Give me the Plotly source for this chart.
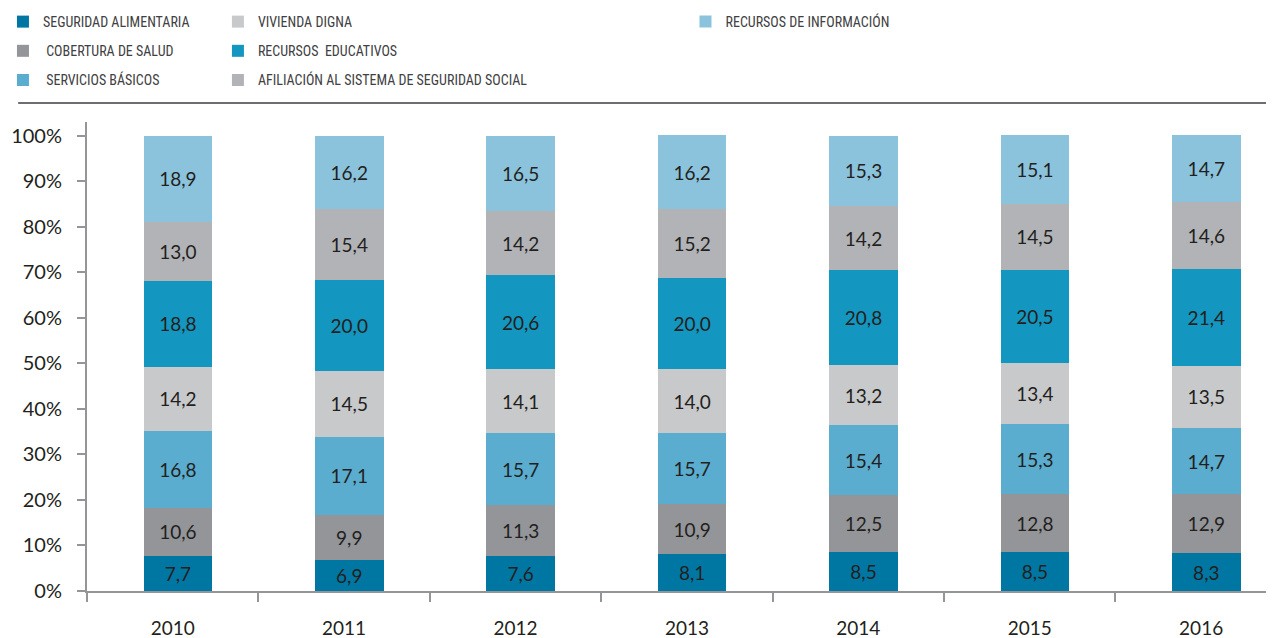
import plotly.graph_objects as go

years = ["2010", "2011", "2012", "2013", "2014", "2015", "2016"]
seguridad_alimentaria = [7.7, 6.9, 7.6, 8.1, 8.5, 8.5, 8.3]
cobertura_salud = [10.6, 9.9, 11.3, 10.9, 12.5, 12.8, 12.9]
servicios_basicos = [16.8, 17.1, 15.7, 15.7, 15.4, 15.3, 14.7]
vivienda_digna = [14.2, 14.5, 14.1, 14.0, 13.2, 13.4, 13.5]
recursos_educativos = [18.8, 20.0, 20.6, 20.0, 20.8, 20.5, 21.4]
afiliacion = [13.0, 15.4, 14.2, 15.2, 14.2, 14.5, 14.6]
recursos_informacion = [18.9, 16.2, 16.5, 16.2, 15.3, 15.1, 14.7]
y_ticks = [0, 10, 20, 30, 40, 50, 60, 70, 80, 90, 100]

series = [
    ("SEGURIDAD ALIMENTARIA", seguridad_alimentaria, "#0077A3", "legend"),
    ("\u00a0COBERTURA DE SALUD", cobertura_salud, "#939598", "legend"),
    ("\u00a0SERVICIOS BÁSICOS", servicios_basicos, "#5AADCF", "legend"),
    ("VIVIENDA DIGNA", vivienda_digna, "#C8C9CB", "legend2"),
    ("RECURSOS\u00a0\u00a0EDUCATIVOS", recursos_educativos, "#1396BF", "legend2"),
    ("AFILIACIÓN AL SISTEMA DE SEGURIDAD SOCIAL", afiliacion, "#B1B3B6", "legend2"),
    ("RECURSOS DE INFORMACIÓN", recursos_informacion, "#8BC3DD", "legend3"),
]

fig = go.Figure()
for i, (name, vals, color, leg) in enumerate(series):
    fig.add_trace(go.Bar(
        x=years, y=vals, name=name, width=0.4, offset=-0.17,
        marker=dict(color=color, line=dict(width=0)),
        text=[f"{v:.1f}".replace(".", ",") for v in vals],
        textposition="inside", insidetextanchor="middle", textangle=0,
        textfont=dict(family="Lato, sans-serif", size=19, color="#231F20"),
        legend=leg, legendgroup=f"g{i}", hoverinfo="skip",
    ))

legend_common = dict(
    font=dict(family="Liberation Sans Narrow, Roboto Condensed, Open Sans, sans-serif", size=14, color="#414042"),
    bgcolor="rgba(0,0,0,0)", orientation="v", yanchor="top", xanchor="left",
    tracegroupgap=8, traceorder="grouped", itemclick=False, itemdoubleclick=False,
)

# page body has an 8px margin, so the figure is drawn 8px smaller
fig.update_layout(
    width=1266, height=630,
    margin=dict(l=79, r=0, t=114, b=47, autoexpand=False),
    paper_bgcolor="white", plot_bgcolor="white",
    barmode="stack",
    legend=dict(x=-0.0708, y=1.2473, **legend_common),
    legend2=dict(x=0.1103, y=1.2473, **legend_common),
    legend3=dict(x=0.5042, y=1.2473, **legend_common),
    xaxis=dict(
        type="category", range=[-0.5, 6.425],
        showgrid=False, showline=True, linecolor="#939598", linewidth=2,
        ticks="outside", tickson="boundaries", ticklen=9, tickwidth=2, tickcolor="#939598",
        tickfont=dict(family="Lato, sans-serif", size=19, color="#231F20"),
        ticklabelstandoff=19, zeroline=False, fixedrange=True, automargin=False,
    ),
    yaxis=dict(
        range=[0, 103], showgrid=False, showline=True, linecolor="#939598", linewidth=2,
        tickvals=y_ticks, ticktext=[f"{t}%" for t in y_ticks],
        ticks="outside", ticklen=8, tickwidth=2, tickcolor="#939598",
        tickfont=dict(family="Lato, sans-serif", size=20, color="#231F20"),
        ticklabelstandoff=11, zeroline=False, fixedrange=True, automargin=False,
    ),
    shapes=[dict(type="line", xref="paper", yref="paper", x0=-0.058, x1=1.0,
                 y0=1.0405, y1=1.0405, line=dict(color="#6D6E71", width=2))],
    showlegend=True,
)

fig.write_html("out.html")
